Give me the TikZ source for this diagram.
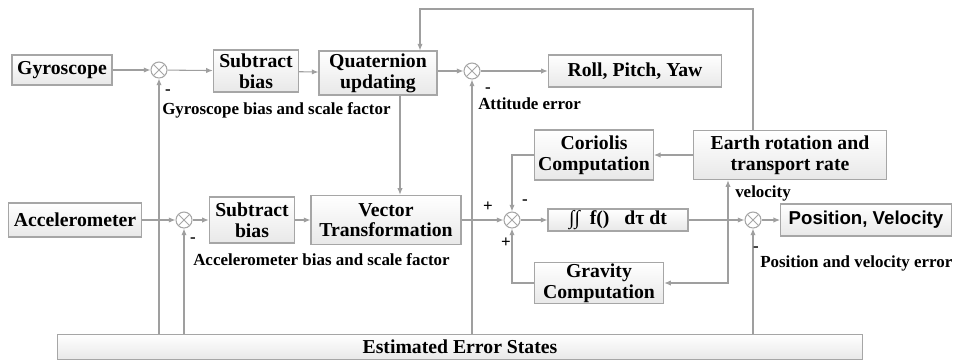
\documentclass[tikz,border=0pt]{standalone}
\usepackage{fontspec}
\setmainfont{Liberation Serif}
\newfontfamily\pvfont{Liberation Sans}
\usetikzlibrary{arrows.meta,calc}

\begin{document}
\begin{tikzpicture}[x=0.75pt,y=-0.75pt,
	blk/.style={draw=gray!70,line width=0.8pt,top color=white,bottom color=gray!18,
		align=center,inner sep=1pt,font=\fontsize{14.8}{15.5}\selectfont\bfseries},
	sumnode/.style={circle,draw=gray!70,line width=0.8pt,fill=white,minimum size=12pt,inner sep=0pt,
		path picture={\draw[gray!70,line width=0.7pt]
			($(path picture bounding box.center)+(45:6pt)$) -- ($(path picture bounding box.center)+(225:6pt)$)
			($(path picture bounding box.center)+(135:6pt)$) -- ($(path picture bounding box.center)+(315:6pt)$);}},
	arr/.style={draw=gray!75,line width=0.8pt,-{Latex[length=5pt,width=4pt]}},
	wire/.style={draw=gray!75,line width=0.8pt},
	lbl/.style={font=\fontsize{12.7}{13}\selectfont\bfseries,inner sep=0pt,anchor=west},
	sgn/.style={font=\fontsize{12.7}{13}\selectfont\bfseries,inner sep=0pt}]
			\useasboundingbox (0,0) rectangle (961,362);
			% top row
			\node[blk,minimum width=75pt,minimum height=22.5pt] (gyro) at (62,70) {Gyroscope};
			\node[sumnode] (s1) at (159,70) {};
			\node[blk,minimum width=64pt,minimum height=31.5pt] (subA) at (256,71) {Subtract\\bias};
			\node[blk,minimum width=88.5pt,minimum height=33pt] (quat) at (378,73) {Quaternion\\updating};
			\node[sumnode] (s2) at (472,71) {};
			\node[blk,minimum width=130pt,minimum height=24pt] (rpy) at (635,71) {Roll, Pitch, Yaw};
			% middle row
			\node[blk,minimum width=89pt,minimum height=37.5pt] (cor) at (594,155) {Coriolis\\Computation};
			\node[blk,minimum width=145pt,minimum height=37pt] (earth) at (790,155) {Earth rotation and\\transport rate};
			% bottom row
			\node[blk,minimum width=100pt,minimum height=25.5pt] (acc) at (75,220) {Accelerometer};
			\node[sumnode] (s4) at (184,220) {};
			\node[blk,minimum width=64pt,minimum height=34.5pt] (subB) at (252,220) {Subtract\\bias};
			\node[blk,minimum width=112.5pt,minimum height=37pt] (vec) at (386,220) {Vector\\Transformation};
			\node[sumnode] (s3) at (512,220) {};
			\node[blk,minimum width=105pt,minimum height=16.5pt] (integ) at (618,220) {∫∫~~f()~~~dτ~dt};
			\node[sumnode] (s5) at (753,220) {};
			\node[blk,minimum width=128pt,minimum height=24pt,font=\fontsize{14}{15}\selectfont\pvfont\bfseries] (pv) at (866,220) {Position, Velocity};
			\node[blk,minimum width=97pt,minimum height=30pt] (grav) at (599,283) {Gravity\\Computation};
			\node[blk,minimum width=604pt,minimum height=19pt] (est) at (460,347) {Estimated Error States};
			% forward paths
			\draw[arr] (gyro) -- (s1);
			\draw[arr] (s1) -- (subA);
			\draw[arr] (subA) -- (quat);
			\draw[arr] (quat.east |- s2) -- (s2);
			\draw[arr] (s2) -- (rpy);
			\draw[arr] (acc) -- (s4);
			\draw[arr] (s4) -- (subB);
			\draw[arr] (subB) -- (vec);
			\draw[arr] (vec) -- (s3);
			\draw[arr] (s3) -- (integ);
			\draw[arr] (integ) -- (s5);
			\draw[arr] (s5) -- (pv);
			\coordinate (qv) at (400,0);
			\draw[arr] (quat.south -| qv) -- (vec.north -| qv);
			% loops
			\coordinate (top) at (0,9);
			\coordinate (qtop) at (420,0);
			\draw[arr] (earth.north -| s5) -- (s5 |- top) -| (quat.north -| qtop);
			\draw[arr] (earth.west) -- (cor.east);
			\draw[arr] (cor.west) -| (s3.north);
			\draw[arr] (grav.west) -| (s3.south);
			\coordinate (vb) at (728,220);
			\draw[arr] (vb) -- (vb |- earth.south);
			\draw[arr] (vb) |- (grav.east);
			\foreach \s in {s1, s2, s4, s5}
				\draw[arr] (\s |- est.north) -- (\s.south);
			% signs and labels
			\node[sgn] (m1) at (168,92) {-};
			\node[sgn] (m2) at (488,90) {-};
			\node[sgn] (m4) at (193,240) {-};
			\node[sgn] (m5) at (756,249) {-};
			\node[sgn] (p3a) at (488,207) {+};
			\node[sgn] (m3) at (525,202) {-};
			\node[sgn] (p3b) at (506,243) {+};
			\node[lbl] (l1) at (162,110) {Gyroscope bias and scale factor};
			\node[lbl] (l2) at (478,104) {Attitude error};
			\node[lbl] (l4) at (193,260) {Accelerometer bias and scale factor};
			\node[lbl] (l5) at (760,263) {Position and velocity error};
			\node[lbl] (lv) at (735,193) {velocity};
		\end{tikzpicture}
\end{document}
